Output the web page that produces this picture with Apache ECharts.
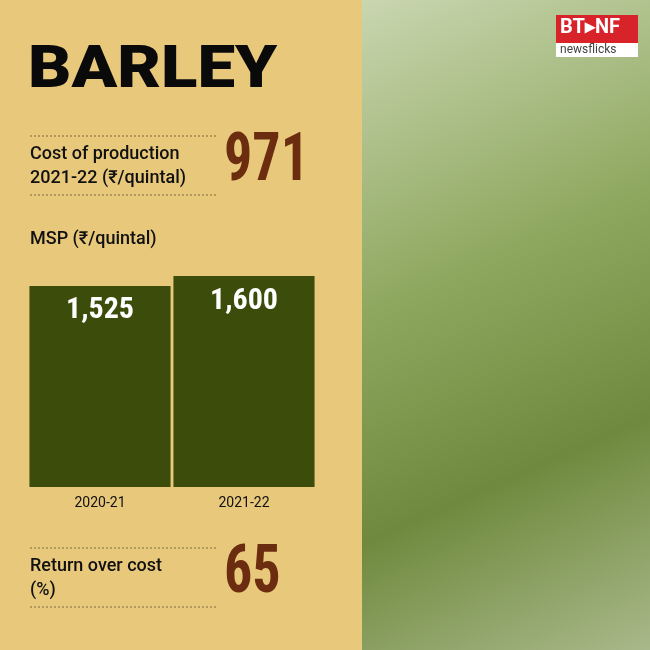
<!DOCTYPE html><html><head><meta charset="utf-8"><script src="https://cdn.jsdelivr.net/npm/echarts@6/dist/echarts.min.js"></script>
<style>html,body{margin:0;padding:0;}#c{width:650px;height:650px;}</style></head><body><div id="c"></div>
<script>
const categories=['2020-21','2021-22'];
const msp=[1525,1600];
const costOfProduction='971';
const returnOverCost='65';
const chart=echarts.init(document.getElementById('c'));
const dash={type:'line',shape:{x1:30,y1:0,x2:218,y2:0},style:{stroke:'#7a6a40',lineWidth:1,lineDash:[2,2]}};
function dl(y){return Object.assign({},dash,{shape:{x1:30,y1:y,x2:218,y2:y}});}
chart.setOption({
 backgroundColor:'#e8c87a',
 grid:{left:28,right:334,top:276,bottom:163},
 xAxis:{type:'category',data:categories,axisLine:{show:false},axisTick:{show:false},axisLabel:{color:'#111',fontSize:14,fontFamily:'Roboto',margin:9}},
 yAxis:{type:'value',min:0,max:1600,show:false,splitLine:{show:false}},
 series:[{type:'bar',data:msp,barCategoryGap:'2%',itemStyle:{color:'#3c4d0b'},
  label:{show:true,position:'insideTop',distance:10,color:'#fff',fontSize:30,fontWeight:'bold',fontFamily:'Roboto Condensed, Roboto',formatter:p=>p.value.toLocaleString('en-US')}}],
 graphic:[
  {type:'rect',shape:{x:362,y:0,width:288,height:650},style:{fill:new echarts.graphic.LinearGradient(0,0,1,1,[{offset:0,color:'#c9d6b0'},{offset:0.4,color:'#8fa860'},{offset:0.7,color:'#6f8a3e'},{offset:1,color:'#a9b88a'}])},z:-1},
  {type:'rect',shape:{x:556,y:15,width:82,height:28},style:{fill:'#d8232a'}},
  {type:'text',x:560,y:18,style:{text:'BT▸NF',fill:'#fff',font:'bold 20px Roboto'}},
  {type:'rect',shape:{x:556,y:43,width:82,height:14},style:{fill:'#fff'}},
  {type:'text',x:560,y:44,style:{text:'newsflicks',fill:'#444',font:'12px Roboto'}},
  {type:'text',x:28,y:42,scaleX:1.12,style:{text:'BARLEY',fill:'#0a0a0a',font:'900 60px Roboto'}},
  dl(136),dl(195),dl(548),dl(607),
  {type:'text',x:30,y:142,style:{text:'Cost of production\n2021-22 (₹/quintal)',fill:'#111',font:'500 18px Roboto',lineHeight:24}},
  {type:'text',x:224,y:130,style:{text:costOfProduction,fill:'#6b2c10',font:'bold 66px "Roboto Condensed", "Liberation Sans Narrow", Roboto'},scaleX:0.85},
  {type:'text',x:30,y:230,style:{text:'MSP (₹/quintal)',fill:'#111',font:'500 18px Roboto'}},
  {type:'text',x:30,y:554,style:{text:'Return over cost\n(%)',fill:'#111',font:'500 18px Roboto',lineHeight:24}},
  {type:'text',x:224,y:542,style:{text:returnOverCost,fill:'#6b2c10',font:'bold 66px "Roboto Condensed", "Liberation Sans Narrow", Roboto'},scaleX:0.85}
 ]
});
</script></body></html>
